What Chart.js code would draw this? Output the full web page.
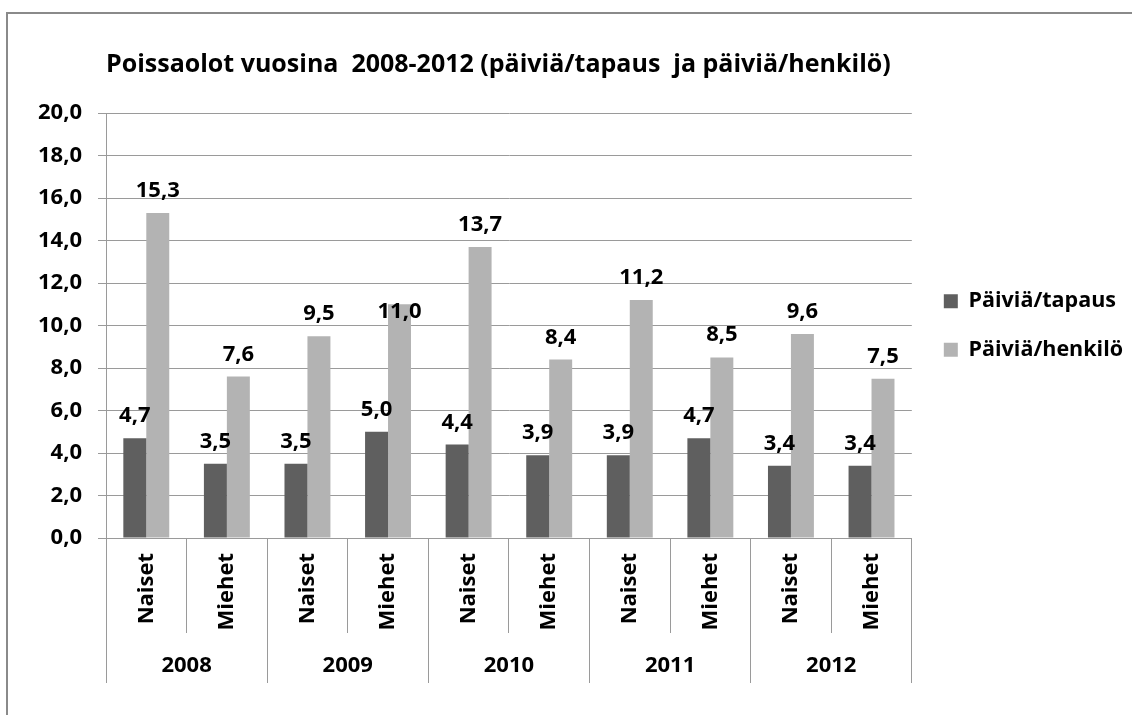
<!DOCTYPE html>
<html>
<head>
<meta charset="utf-8">
<script src="https://cdn.jsdelivr.net/npm/chart.js@4.4.0/dist/chart.umd.min.js"></script>
<style>
    html, body { margin: 0; padding: 0; background: #fff; overflow: hidden; }
    #frame { position: absolute; left: 6px; top: 12px; width: 1200px; height: 800px; border-top: 2px solid #8a8a8a; border-left: 2px solid #8a8a8a; }
    #wrap { position: absolute; left: 0; top: 0; width: 1132px; height: 715px; }
</style>
</head>
<body>
<div id="frame"></div>
<div id="wrap"><canvas id="chart"></canvas></div>
<script>
// Data
const years = ['2008', '2009', '2010', '2011', '2012'];
const groups = ['Naiset', 'Miehet', 'Naiset', 'Miehet', 'Naiset', 'Miehet', 'Naiset', 'Miehet', 'Naiset', 'Miehet'];
const paiviaTapaus = [4.7, 3.5, 3.5, 5.0, 4.4, 3.9, 3.9, 4.7, 3.4, 3.4];
const paiviaHenkilo = [15.3, 7.6, 9.5, 11.0, 13.7, 8.4, 11.2, 8.5, 9.6, 7.5];

const gridGrey = '#9a9a9a';
const fontName = "'Open Sans'";

// the 11,0 label sits lower in the original, over its bar
const labelNudge = { 1: { 3: 30 } };

function fiNumber(v) {
    return Number(v).toFixed(1).replace('.', ',');
}

// Value labels above each bar
const barValueLabels = {
    id: 'barValueLabels',
    afterDatasetsDraw(chart) {
        const ctx = chart.ctx;
        ctx.save();
        ctx.font = 'bold 22px ' + fontName;
        ctx.fillStyle = '#000';
        ctx.textAlign = 'center';
        ctx.textBaseline = 'alphabetic';
        chart.data.datasets.forEach(function (ds, i) {
            chart.getDatasetMeta(i).data.forEach(function (bar, j) {
                let shift = (labelNudge[i] && labelNudge[i][j]) || 0;
                ctx.fillText(fiNumber(ds.data[j]), bar.x, bar.y - 16 + shift);
            });
        });
        ctx.restore();
    }
};

new Chart(document.getElementById('chart'), {
    type: 'bar',
    data: {
        labels: groups,
        datasets: [
            {
                label: 'Päiviä/tapaus',
                data: paiviaTapaus,
                backgroundColor: '#5f5f5f',
                borderWidth: 0
            },
            {
                label: 'Päiviä/henkilö',
                data: paiviaHenkilo,
                backgroundColor: '#b3b3b3',
                borderWidth: 0
            }
        ]
    },
    options: {
        responsive: true,
        maintainAspectRatio: false,
        animation: false,
        datasets: {
            bar: { categoryPercentage: 0.57, barPercentage: 1.0 }
        },
        layout: { padding: { left: 0, right: -1, top: 0, bottom: 32 } },
        plugins: {
            title: {
                display: true,
                text: 'Poissaolot vuosina  2008-2012 (päiviä/tapaus  ja päiviä/henkilö)',
                align: 'start',
                fullSize: false,
                color: '#000',
                font: { family: fontName, size: 25, weight: 'bold' },
                padding: { top: 50, bottom: 33 }
            },
            legend: {
                position: 'right',
                align: 'center',
                fullSize: false,
                maxWidth: 320,
                labels: {
                    boxWidth: 14,
                    boxHeight: 14,
                    padding: 27,
                    color: '#000',
                    font: { family: fontName, size: 21.5, weight: 'bold' }
                }
            },
            tooltip: { enabled: false }
        },
        scales: {
            y: {
                min: 0,
                max: 20,
                afterFit: function (scale) { scale.width = 106; },
                ticks: {
                    stepSize: 2,
                    padding: 16,
                    color: '#000',
                    font: { family: fontName, size: 22, weight: 'bold' },
                    callback: function (v) { return fiNumber(v); }
                },
                grid: { color: gridGrey, tickLength: 8 },
                border: { color: gridGrey }
            },
            legendGap: {
                type: 'linear',
                position: 'right',
                afterFit: function (scale) { scale.width = 5; },
                ticks: { display: false },
                grid: { display: false },
                border: { display: false }
            },
            x: {
                weight: 0,
                offset: true,
                afterFit: function (scale) { scale.height = 95; },
                ticks: {
                    autoSkip: false,
                    minRotation: 90,
                    maxRotation: 90,
                    padding: -80,
                    color: '#000',
                    font: { family: fontName, size: 22, weight: 'bold' }
                },
                grid: { offset: true, drawOnChartArea: false, tickLength: 95, color: gridGrey },
                border: { color: gridGrey }
            },
            xYear: {
                type: 'category',
                position: 'bottom',
                weight: 1,
                labels: years,
                offset: true,
                afterFit: function (scale) { scale.height = 50; },
                ticks: {
                    padding: -30,
                    color: '#000',
                    font: { family: fontName, size: 22, weight: 'bold' }
                },
                grid: { offset: true, drawOnChartArea: false, tickLength: 50, color: gridGrey },
                border: { display: false }
            }
        }
    },
    plugins: [barValueLabels]
});
</script>
</body>
</html>
